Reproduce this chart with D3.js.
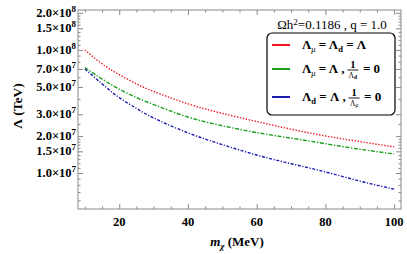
<!DOCTYPE html>
<html>
<head>
<meta charset="utf-8">
<script src="https://cdn.jsdelivr.net/npm/d3@7"></script>
<style>
  body { margin: 0; background: #fff; }
  svg { display: block; }
  text { white-space: pre; }
  .lab { font-family: "Liberation Serif", "Times New Roman", serif; font-weight: bold; fill: #000; }
</style>
</head>
<body>
<div id="chart"></div>
<script>
// data
var mass = [10, 15, 20, 25, 30, 40, 50, 60, 70, 80, 90, 100];
var lamEqual = [1.0e8, 7.7e7, 6.3e7, 5.3e7, 4.6e7, 3.65e7, 3.05e7, 2.62e7, 2.27e7, 2.0e7, 1.8e7, 1.63e7];
var lamMuOnly = [7.2e7, 5.8e7, 4.8e7, 4.1e7, 3.6e7, 2.85e7, 2.42e7, 2.13e7, 1.92e7, 1.73e7, 1.56e7, 1.43e7];
var lamDOnly = [7.0e7, 5.3e7, 4.1e7, 3.35e7, 2.8e7, 2.12e7, 1.7e7, 1.4e7, 1.19e7, 1.02e7, 8.6e6, 7.4e6];

var xTicks = [20, 40, 60, 80, 100];
var xMinor = [10, 15, 25, 30, 35, 45, 50, 55, 65, 70, 75, 85, 90, 95];
var yTicks = [1.0e7, 1.5e7, 2.0e7, 3.0e7, 5.0e7, 7.0e7, 1.0e8, 1.5e8, 2.0e8];
var yMinor = [6e6, 7e6, 8e6, 9e6, 1.1e7, 1.2e7, 1.3e7, 1.4e7, 1.6e7, 1.7e7, 1.8e7, 1.9e7,
              2.5e7, 4e7, 6e7, 8e7, 9e7, 1.1e8, 1.2e8, 1.3e8, 1.4e8, 1.6e8, 1.7e8, 1.8e8, 1.9e8];

var series = [
  {vals: lamEqual, color: "#f0141e", dash: "1.4,1.6"},
  {vals: lamMuOnly, color: "#1a9f1a", dash: "4,1.6,1.4,1.6"},
  {vals: lamDOnly, color: "#1a1ab0", dash: "3,1.6,1.2,1.6"}
];

var width = 407, height = 254;
var pLeft = 78, pRight = 401, pTop = 10, pBottom = 209;

var svg = d3.select("#chart").append("svg")
  .attr("width", width)
  .attr("height", height);

var x = d3.scaleLinear().domain([8, 102]).range([pLeft, pRight]);
var y = d3.scaleLog().domain([5.1e6, 2.11e8]).range([pBottom, pTop]);

var frameColor = "#8a8a8a";

// ticks on all four sides, pointing inward
function tickAxis(axis, tx, ty) {
  var g = svg.append("g")
    .attr("transform", "translate(" + tx + "," + ty + ")")
    .call(axis);
  g.select(".domain").remove();
  g.selectAll("line").attr("stroke", frameColor);
  g.selectAll("text").remove();
}

tickAxis(d3.axisBottom(x).tickValues(xTicks).tickSize(-5), 0, pBottom);
tickAxis(d3.axisBottom(x).tickValues(xMinor).tickSize(-2.5), 0, pBottom);
tickAxis(d3.axisTop(x).tickValues(xTicks).tickSize(-5), 0, pTop);
tickAxis(d3.axisTop(x).tickValues(xMinor).tickSize(-2.5), 0, pTop);
tickAxis(d3.axisLeft(y).tickValues(yTicks).tickSize(-5), pLeft, 0);
tickAxis(d3.axisLeft(y).tickValues(yMinor).tickSize(-2.5), pLeft, 0);
tickAxis(d3.axisRight(y).tickValues(yTicks).tickSize(-5), pRight, 0);
tickAxis(d3.axisRight(y).tickValues(yMinor).tickSize(-2.5), pRight, 0);

svg.append("rect")
  .attr("x", pLeft).attr("y", pTop)
  .attr("width", pRight - pLeft).attr("height", pBottom - pTop)
  .attr("fill", "none")
  .attr("stroke", frameColor)
  .attr("stroke-width", 1);

// x tick labels
svg.selectAll(".xl")
  .data(xTicks)
  .enter().append("text")
  .attr("class", "lab")
  .attr("x", function(d){ return x(d); })
  .attr("y", 226)
  .attr("text-anchor", "middle")
  .attr("font-size", 12.5)
  .text(function(d){ return d; });

// y tick labels  m.m x 10^e
yTicks.forEach(function(v) {
  var e = Math.floor(Math.log10(v) + 1e-9);
  var m = (v / Math.pow(10, e)).toFixed(1);
  var t = svg.append("text")
    .attr("class", "lab")
    .attr("x", 76)
    .attr("y", y(v) + 4)
    .attr("text-anchor", "end")
    .attr("font-size", 12.5);
  t.append("tspan").text(m + "\u00d710");
  t.append("tspan").attr("dy", -5).attr("font-size", 9).text(e);
});

// curves
var line = d3.line()
  .x(function(d){ return x(d[0]); })
  .y(function(d){ return y(d[1]); })
  .curve(d3.curveNatural);

series.forEach(function(s) {
  svg.append("path")
    .datum(mass.map(function(m, i){ return [m, s.vals[i]]; }))
    .attr("d", line)
    .attr("fill", "none")
    .attr("stroke", s.color)
    .attr("stroke-width", 1.4)
    .attr("stroke-dasharray", s.dash);
});

// axis titles
svg.append("text")
  .attr("class", "lab")
  .attr("transform", "translate(22,106) rotate(-90)")
  .attr("text-anchor", "middle")
  .attr("font-size", 13.5)
  .text("\u039b (TeV)");

var xt = svg.append("text")
  .attr("class", "lab")
  .attr("x", 237)
  .attr("y", 246)
  .attr("text-anchor", "middle")
  .attr("font-size", 13);
xt.append("tspan").attr("font-style", "italic").text("m");
xt.append("tspan").attr("font-style", "italic").attr("font-size", 9).attr("dy", 3).text("\u03c7");
xt.append("tspan").attr("dy", -3).text(" (MeV)");

// plot label
var pl = svg.append("text")
  .attr("x", 332)
  .attr("y", 29)
  .attr("text-anchor", "middle")
  .attr("font-family", "Liberation Serif, Times New Roman, serif")
  .attr("font-size", 13);
pl.append("tspan").text("\u03a9h");
pl.append("tspan").attr("dy", -4).attr("font-size", 9).text("2");
pl.append("tspan").attr("dy", 4).text("=0.1186 , q = 1.0");

// legend
svg.append("rect")
  .attr("x", 267).attr("y", 33)
  .attr("width", 128).attr("height", 82)
  .attr("rx", 5)
  .attr("fill", "#fff")
  .attr("stroke", "#000")
  .attr("stroke-width", 1.2);

var legY = [45, 69, 97];
var subOf = [["\u03bc", "d"], ["\u03bc", "d"], ["d", "\u03bc"]];

function lamSub(t, sub, size) {
  t.append("tspan").text("\u039b");
  var s = t.append("tspan").attr("dy", 3).attr("font-size", size);
  if (sub === "\u03bc") s.attr("font-style", "italic").attr("font-weight", "normal");
  s.text(sub);
  return s;
}

series.forEach(function(s, i) {
  var ly = legY[i];
  svg.append("line")
    .attr("x1", 272).attr("x2", 290)
    .attr("y1", ly).attr("y2", ly)
    .attr("stroke", s.color)
    .attr("stroke-width", 2);

  var t = svg.append("text")
    .attr("class", "lab")
    .attr("x", 302)
    .attr("y", ly + 4)
    .attr("font-size", 13);

  if (i === 0) {
    lamSub(t, "\u03bc", 8.5);
    t.append("tspan").attr("dy", -3).text(" = ");
    lamSub(t, "d", 8.5);
    t.append("tspan").attr("dy", -3).text(" = \u039b");
  } else {
    lamSub(t, subOf[i][0], 8.5);
    t.append("tspan").attr("dy", -3).text(" = \u039b , ");
    var fx = 302 + t.node().getComputedTextLength() + 5;
    // fraction 1 / Lambda_sub
    svg.append("text").attr("class", "lab")
      .attr("x", fx).attr("y", ly - 1)
      .attr("text-anchor", "middle")
      .attr("font-size", 10.5)
      .text("1");
    svg.append("line")
      .attr("x1", fx - 5.5).attr("x2", fx + 5.5)
      .attr("y1", ly + 1).attr("y2", ly + 1)
      .attr("stroke", "#000").attr("stroke-width", 0.9);
    var den = svg.append("text").attr("class", "lab")
      .attr("x", fx).attr("y", ly + 8.5)
      .attr("text-anchor", "middle")
      .attr("font-size", 7.5);
    den.append("tspan").attr("font-weight", "normal").text("\u039b");
    var ds = den.append("tspan").attr("font-size", 5.5).attr("dy", 1.5);
    if (subOf[i][1] === "\u03bc") ds.attr("font-style", "italic").attr("font-weight", "normal");
    ds.text(subOf[i][1]);
    svg.append("text").attr("class", "lab")
      .attr("x", fx + 10).attr("y", ly + 4)
      .attr("font-size", 13)
      .text("= 0");
  }
});
</script>
</body>
</html>
